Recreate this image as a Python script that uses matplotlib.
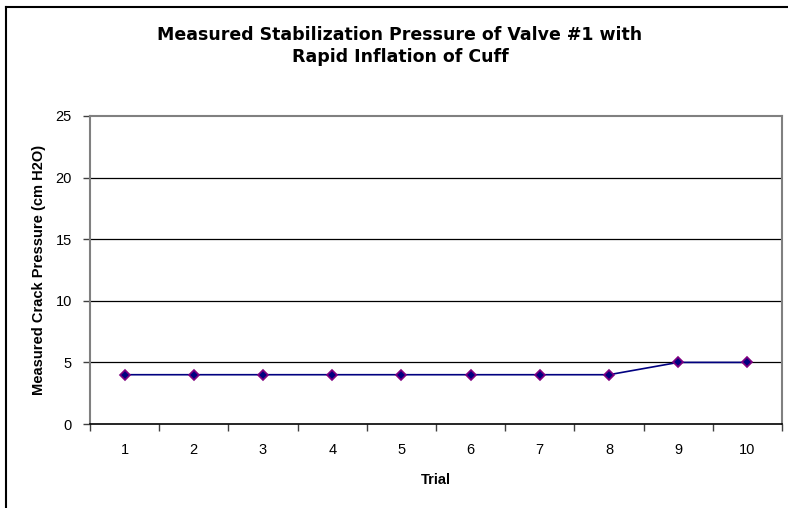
import matplotlib
matplotlib.use("Agg")
import matplotlib.pyplot as plt
from matplotlib.lines import Line2D

plt.rcParams["font.family"] = ["Liberation Sans", "DejaVu Sans"]

# Chart data
trials = [1, 2, 3, 4, 5, 6, 7, 8, 9, 10]
pressure = [4, 4, 4, 4, 4, 4, 4, 4, 5, 5]
y_ticks = [0, 5, 10, 15, 20, 25]

fig = plt.figure(figsize=(7.88, 5.08), dpi=100)
ax = fig.add_axes([90 / 788, 1 - 424 / 508, 692 / 788, 308 / 508])

# Outer chart-area frame (only left and top edges visible)
fig.add_artist(Line2D([6 / 788, 6 / 788], [0, 1 - 7 / 508], transform=fig.transFigure,
                      color="black", linewidth=1.5))
fig.add_artist(Line2D([6 / 788, 1], [1 - 7 / 508, 1 - 7 / 508], transform=fig.transFigure,
                      color="black", linewidth=1.5))

# Category positions: centred in each slot
xpos = [t - 0.5 for t in trials]
ax.plot(xpos, pressure, color="#000080", linewidth=1.2, marker="D", markersize=5,
        markerfacecolor="#000080", markeredgecolor="#800080", markeredgewidth=1.2,
        zorder=3)

ax.set_xlim(0, len(trials))
ax.set_ylim(0, 25)

# Horizontal gridlines
for y in y_ticks[1:-1]:
    ax.axhline(y, color="black", linewidth=0.9, zorder=1)

ax.set_yticks(y_ticks)
ax.set_yticklabels([str(v) for v in y_ticks], fontsize=10.5)
ax.set_xticks(range(0, len(trials) + 1))
ax.set_xticklabels([])
ax.set_xticks(xpos, minor=True)
ax.set_xticklabels([str(t) for t in trials], minor=True, fontsize=10.5)
ax.tick_params(axis="x", which="minor", length=0, pad=14)
ax.tick_params(axis="x", which="major", length=5, width=1, color="#404040", direction="out")
ax.tick_params(axis="y", length=5, width=1, color="#404040", direction="out", pad=8)

for side in ["left", "top", "right"]:
    ax.spines[side].set_color("#808080")
    ax.spines[side].set_linewidth(1.5)
ax.spines["bottom"].set_color("black")
ax.spines["bottom"].set_linewidth(1.2)

ax.set_xlabel("Trial", fontsize=10.5, fontweight="bold", labelpad=11)
ax.set_ylabel("Measured Crack Pressure (cm H2O)", fontsize=10.5, fontweight="bold", labelpad=7)

fig.text(400 / 788, 1 - 46 / 508,
         "Measured Stabilization Pressure of Valve #1 with\nRapid Inflation of Cuff",
         ha="center", va="center", fontsize=12.5, fontweight="bold", linespacing=1.3,
         family="DejaVu Sans")

fig.savefig("out.png", dpi=100)
